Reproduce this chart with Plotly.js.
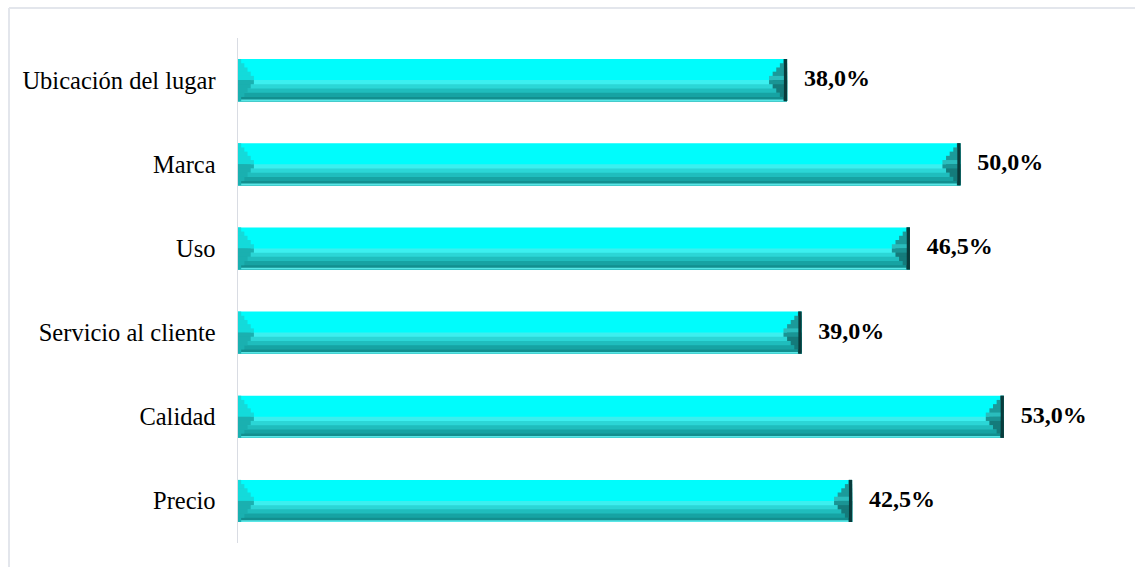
<!DOCTYPE html>
<html>
<head>
<meta charset="utf-8">
<script src="https://cdn.plot.ly/plotly-3.0.1.min.js"></script>
<style>html,body{margin:0;padding:0;background:#fff;}#chart{width:1135px;height:567px;}</style>
</head>
<body>
<div id="chart"></div>
<script>
const categories = ["Precio", "Calidad", "Servicio al cliente", "Uso", "Marca", "Ubicación del lugar"];
const values = [42.5, 53.0, 39.0, 46.5, 50.0, 38.0];

const labels = values.map(v => '\u00a0\u00a0\u2009<b>' + v.toFixed(1).replace('.', ',') + '%</b>');

const BW = 0.5;
const H = BW / 2;
const traces = [];
function band(width, offset, color) {
  traces.push({type: 'bar', orientation: 'h', y: categories, x: values, width: width, offset: offset,
    marker: {color: color, line: {width: 0}}, hoverinfo: 'skip'});
}
function seg(len, fromEnd, width, offset, color) {
  traces.push({type: 'bar', orientation: 'h', y: categories,
    x: values.map(() => len),
    base: values.map(v => fromEnd ? v - len : 0),
    width: width, offset: offset,
    marker: {color: color, line: {width: 0}}, hoverinfo: 'skip'});
}

// body gradient
band(BW, -H, '#00FCFC');
band(H, -H, '#3CEFEF');
band(0.2, -H, '#2BD6D6');
band(0.15, -H, '#1FBDBD');
band(0.1, -H, '#16A3A3');
band(0.05, -H, '#128F8F');
band(0.02, -H, '#58E6E6');

// left bevel (triangle, stepped)
const LL = 1.1;
const steps = 5;
for (let k = 1; k <= steps; k++) {
  const len = LL * k / steps;
  const hh = H * (1 - (k - 1) / steps);
  seg(len, false, hh, 0, '#14DADA');
  seg(len, false, hh, -hh, '#1AB0B0');
}
// right bevel (triangle, stepped)
const RL = 1.25;
for (let k = 1; k <= steps; k++) {
  const len = RL * k / steps;
  const hh = H * (1 - (k - 1) / steps);
  seg(len, true, hh, 0, k === steps ? '#2ABDBD' : (k === 1 ? '#136F6F' : '#1B9A9A'));
  seg(len, true, hh, -hh, k === steps ? '#1A9494' : (k === 1 ? '#0E5C5C' : '#147B7B'));
}
seg(0.22, true, BW, -H, '#093B3B');

// value labels
traces.push({type: 'scatter', mode: 'text', y: categories, x: values, text: labels,
  textposition: 'middle right', cliponaxis: false,
  textfont: {family: 'Liberation Serif, Times New Roman, serif', size: 24, color: '#000'},
  hoverinfo: 'skip'});

const layout = {
  width: 1135, height: 567,
  margin: {l: 238, r: 30, t: 38, b: 24, pad: 0},
  paper_bgcolor: '#fff', plot_bgcolor: '#fff',
  showlegend: false,
  barmode: 'overlay',
  xaxis: {range: [0, 60], visible: false, showgrid: false, zeroline: false, fixedrange: true},
  yaxis: {type: 'category', range: [-0.5, 5.5], showgrid: false, zeroline: false,
          showline: true, linecolor: '#D9DCE3', linewidth: 1.5,
          ticks: '', ticklabelstandoff: 16,
          tickfont: {family: 'Liberation Serif, Times New Roman, serif', size: 24.5, color: '#000'}},
  shapes: [
    {type: 'line', xref: 'paper', yref: 'paper', x0: -0.2641, x1: 1.05, y0: 1.0594, y1: 1.0594,
     line: {color: '#E3E6EC', width: 2}},
    {type: 'line', xref: 'paper', yref: 'paper', x0: -0.2641, x1: -0.2641, y0: 1.0594, y1: -0.06,
     line: {color: '#E3E6EC', width: 2}}
  ]
};

Plotly.newPlot('chart', traces, layout, {displayModeBar: false, staticPlot: true});
</script>
</body>
</html>
